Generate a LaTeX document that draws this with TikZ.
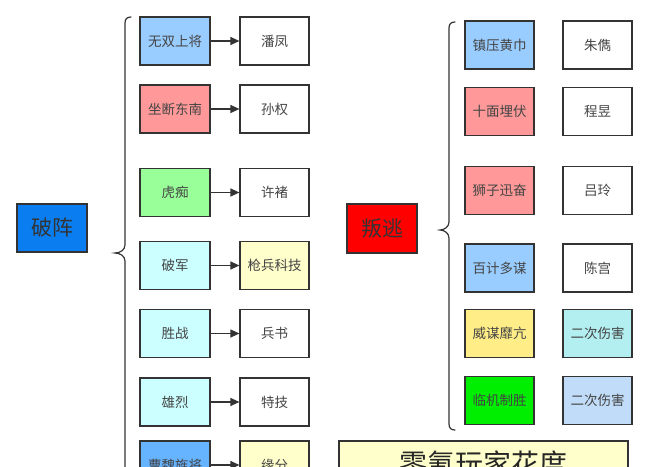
\documentclass[tikz,border=0pt]{standalone}
\usepackage{fontspec}
\setmainfont{Noto Sans CJK SC}
\usetikzlibrary{arrows.meta}
\definecolor{txt}{HTML}{444444}
\definecolor{edge}{HTML}{333333}
\definecolor{cblue}{HTML}{99CCFF}
\definecolor{cred}{HTML}{FF9999}
\definecolor{cgreen}{HTML}{99FF99}
\definecolor{ccyan}{HTML}{CCFFFF}
\definecolor{cyel}{HTML}{FFFFCC}
\definecolor{cdblue}{HTML}{66B3FF}
\definecolor{cmain}{HTML}{0A7EF0}
\definecolor{cgold}{HTML}{FFEE88}
\definecolor{clime}{HTML}{00EE00}
\definecolor{caqua}{HTML}{B3EEF0}
\definecolor{clblue}{HTML}{C0DCF8}
\tikzset{
  box/.style={draw=edge, line width=1.2pt, minimum width=70pt, minimum height=48pt,
    inner sep=0pt, text=txt, font=\fontsize{13.5}{13.5}\selectfont},
  bigbox/.style={box, font=\fontsize{21}{21}\selectfont, text=black!80},
  conn/.style={draw=edge, line width=1.2pt, -{Triangle[length=9pt,width=8pt]}},
  brace/.style={draw=edge, line width=1.2pt, line cap=round}
}
\begin{document}
\begin{tikzpicture}[x=1pt,y=-1pt]
\clip (0,0) rectangle (650,466);
\fill[white] (0,0) rectangle (650,466);
% left group
\node[bigbox, fill=cmain] (pz) at (52,228) {破阵};
\draw[brace] (131,17) .. controls (127,17) and (125,19) .. (125,23) -- (125,245)
  .. controls (125,250) and (120,253) .. (115,253)
  .. controls (120,253) and (125,256) .. (125,261) -- (125,480);
\foreach \n/\y/\c/\t in {a1/41/cblue/无双上将, a2/109/cred/坐断东南, a3/192.5/cgreen/虎痴,
  a4/265.5/ccyan/破军, a5/333.5/ccyan/胜战, a6/402/ccyan/雄烈, a7/465/cdblue/曹魏旌将}
  \node[box, fill=\c] (\n) at (175,\y) {\t};
\foreach \n/\y/\c/\t in {b1/41/white/潘凤, b2/109/white/孙权, b3/192.5/white/许褚,
  b4/265.5/cyel/枪兵科技, b5/333.5/white/兵书, b6/402/white/特技, b7/465/cyel/缘分}
  \node[box, minimum width=69pt, fill=\c] (\n) at (274.5,\y) {\t};
\foreach \i in {1,...,7} \draw[conn] (a\i) -- (b\i);
% right group
\node[bigbox, fill=red, minimum height=49pt] (pt) at (382,228.5) {叛逃};
\draw[brace] (455,22) .. controls (451,22) and (449,24) .. (449,28) -- (449,222)
  .. controls (449,227) and (444,230) .. (440,230)
  .. controls (444,230) and (449,233) .. (449,238) -- (449,424)
  .. controls (449,428) and (451,430) .. (455,430);
\foreach \n/\y/\c/\t in {c1/45/cblue/镇压黄巾, c2/111.5/cred/十面埋伏, c3/190.5/cred/狮子迅奋,
  c4/268/cblue/百计多谋, c5/333.5/cgold/威谋靡亢, c6/400.5/clime/临机制胜}
  \node[box, minimum width=69pt, fill=\c] (\n) at (499.5,\y) {\t};
\foreach \n/\y/\c/\t in {d1/45/white/朱儁, d2/111.5/white/程昱, d3/190.5/white/吕玲,
  d4/268/white/陈宫, d5/333.5/caqua/二次伤害, d6/400.5/clblue/二次伤害}
  \node[box, minimum width=69pt, fill=\c] (\n) at (597.5,\y) {\t};
% bottom banner
\node[box, fill=cyel, minimum width=289pt, minimum height=46pt,
  font=\fontsize{28}{28}\selectfont, text=black!85] (ban) at (483.5,464) {零氪玩家花度};
\end{tikzpicture}
\end{document}
